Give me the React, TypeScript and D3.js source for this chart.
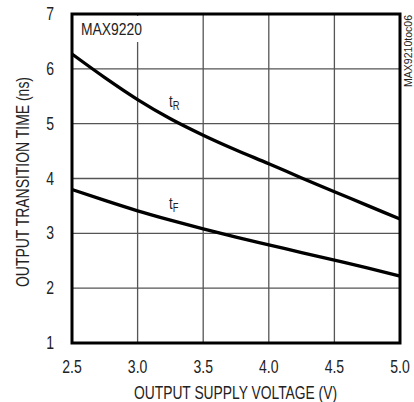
import * as d3 from 'd3';

const voltage = [2.5, 2.75, 3.0, 3.25, 3.5, 3.75, 4.0, 4.25, 4.5, 4.75, 5.0];
const riseTime = [6.27, 5.84, 5.44, 5.09, 4.79, 4.52, 4.27, 4.01, 3.76, 3.51, 3.26];
const fallTime = [3.8, 3.6, 3.41, 3.24, 3.08, 2.93, 2.79, 2.65, 2.51, 2.37, 2.22];
const xTicks = [2.5, 3.0, 3.5, 4.0, 4.5, 5.0];
const yTicks = [1, 2, 3, 4, 5, 6, 7];

const W = 414;
const H = 402;
const margin = { top: 14, right: 14, bottom: 59, left: 72 };
const font = '"Liberation Sans", Arial, sans-serif';
const ink = '#222';
const squeeze = 0.78;

// condensed text: the narrow face isn't installed, so scale horizontally
function Narrow(props: { x: number; y: number; size: number; anchor?: string; children: any }) {
  return (
    <text
      transform={`translate(${props.x},${props.y}) scale(${squeeze},1)`}
      textAnchor={props.anchor ?? 'start'}
      fontSize={props.size}
      fill={ink}
    >
      {props.children}
    </text>
  );
}

export default function App() {
  const x = d3.scaleLinear().domain([2.5, 5.0]).range([margin.left, W - margin.right]);
  const y = d3.scaleLinear().domain([1, 7]).range([H - margin.bottom, margin.top]);

  const line = d3
    .line<number>()
    .x((_, i) => x(voltage[i]))
    .y((d) => y(d))
    .curve(d3.curveMonotoneX);

  const [x0, x1] = x.range();
  const [y0, y1] = y.range();

  return (
    <svg
      width={W}
      height={H}
      style={{ position: 'absolute', left: 0, top: 0, background: '#fff' }}
      fontFamily={font}
    >
      {xTicks.slice(1, -1).map((t) => (
        <line key={'gx' + t} x1={x(t)} x2={x(t)} y1={y0} y2={y1} stroke="#555" strokeWidth={1.3} />
      ))}
      {yTicks.slice(1, -1).map((t) => (
        <line key={'gy' + t} x1={x0} x2={x1} y1={y(t)} y2={y(t)} stroke="#555" strokeWidth={1.3} />
      ))}

      <rect x={x0 + 2} y={y1 + 2} width={70} height={26} fill="#fff" />
      <text x={x0 + 9} y={y1 + 21} fontSize={16.5} fill={ink} textLength={61} lengthAdjust="spacingAndGlyphs">
        MAX9220
      </text>

      <path d={line(riseTime) ?? ''} fill="none" stroke="#000" strokeWidth={3.3} />
      <path d={line(fallTime) ?? ''} fill="none" stroke="#000" strokeWidth={3.3} />

      <Narrow x={x(3.24)} y={y(5.3)} size={17}>
        t<tspan fontSize={12} dy={3}>R</tspan>
      </Narrow>
      <Narrow x={x(3.24)} y={y(3.45)} size={17}>
        t<tspan fontSize={12} dy={3}>F</tspan>
      </Narrow>

      <rect x={x0} y={y1} width={x1 - x0} height={y0 - y1} fill="none" stroke="#000" strokeWidth={3} />

      {yTicks.map((t) => (
        <Narrow key={'ty' + t} x={x0 - 18} y={y(t) + 6} size={18} anchor="end">
          {t}
        </Narrow>
      ))}
      {xTicks.map((t) => (
        <Narrow key={'tx' + t} x={x(t)} y={y0 + 30} size={18} anchor="middle">
          {t.toFixed(1)}
        </Narrow>
      ))}

      <text x={134} y={399} fontSize={19} fill={ink} textLength={203} lengthAdjust="spacingAndGlyphs">
        OUTPUT SUPPLY VOLTAGE (V)
      </text>
      <text
        transform={`translate(29,287) rotate(-90)`}
        fontSize={19}
        fill={ink}
        textLength={210}
        lengthAdjust="spacingAndGlyphs"
      >
        OUTPUT TRANSITION TIME (ns)
      </text>
      <text
        transform={`translate(412,87) rotate(-90)`}
        fontSize={11}
        fill={ink}
        textLength={72}
        lengthAdjust="spacingAndGlyphs"
      >
        MAX9210toc06
      </text>
    </svg>
  );
}
